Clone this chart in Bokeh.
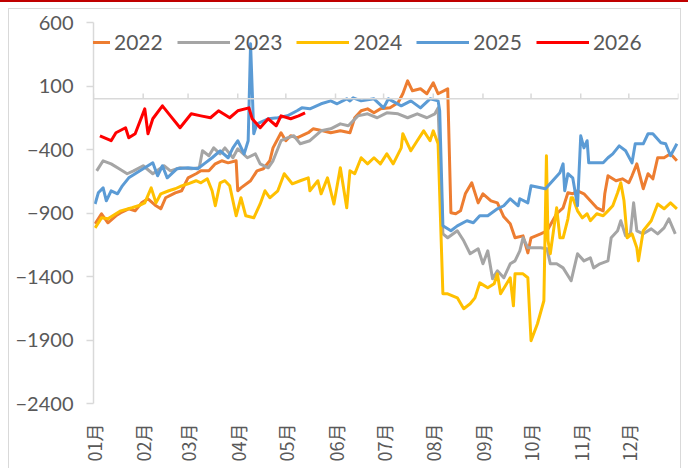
from bokeh.plotting import figure
from bokeh.models import FixedTicker, Legend, LegendItem, Span, ColumnDataSource
from bokeh.embed import file_html
from bokeh.resources import INLINE

# ---- data (day of year, value) ----
month_starts = [0, 31, 59, 90, 120, 151, 181, 212, 243, 273, 304, 334, 365]
month_labels = ["01月", "02月", "03月", "04月", "05月", "06月", "07月", "08月", "09月", "10月", "11月", "12月"]
y_ticks = [600, 100, -400, -900, -1400, -1900, -2400]

d2022 = [1, 5, 9, 14, 17, 22, 26, 30, 34, 39, 42, 45, 51, 55, 59, 64, 67, 72, 76, 80, 84, 89, 90, 92, 98, 102, 106, 110, 112, 117, 120, 123, 127, 134, 137, 143, 148, 154, 160, 163, 167, 171, 175, 179, 185, 190, 193, 196, 199, 204, 208, 212, 215, 221, 223, 226, 229, 232, 236, 240, 243, 248, 252, 256, 260, 263, 268, 271, 273, 279, 283, 289, 293, 296, 299, 302, 306, 310, 314, 318, 319, 321, 326, 330, 334, 336, 339, 343, 346, 349, 352, 356, 360, 364]
v2022 = [-985, -906, -977, -922, -898, -867, -883, -820, -788, -843, -867, -780, -741, -725, -623, -591, -568, -568, -513, -489, -505, -489, -725, -702, -646, -568, -552, -489, -387, -268, -331, -292, -308, -268, -237, -253, -268, -253, -268, -150, -95, -80, -111, -80, -72, -32, 39, 141, 62, 78, 39, 125, 39, 78, -898, -906, -883, -749, -662, -820, -749, -804, -820, -930, -985, -1095, -1080, -1214, -1095, -1064, -1040, -906, -859, -741, -749, -725, -749, -804, -859, -883, -749, -607, -646, -631, -662, -607, -513, -709, -591, -631, -465, -465, -434, -489]

d2023 = [2, 6, 11, 16, 21, 25, 31, 37, 44, 48, 54, 61, 66, 68, 72, 75, 79, 82, 87, 90, 96, 101, 104, 109, 112, 117, 121, 125, 129, 135, 142, 148, 154, 159, 165, 171, 177, 183, 190, 196, 202, 208, 213, 215, 218, 221, 227, 231, 235, 240, 243, 246, 249, 252, 256, 260, 263, 266, 268, 271, 279, 283, 285, 289, 293, 298, 302, 306, 310, 312, 316, 321, 323, 327, 329, 332, 335, 337, 339, 343, 348, 352, 356, 359, 363]
v2023 = [-568, -489, -513, -552, -591, -568, -528, -591, -528, -568, -544, -552, -544, -410, -449, -387, -434, -387, -465, -394, -465, -434, -513, -544, -489, -331, -308, -292, -355, -331, -253, -237, -198, -213, -135, -119, -150, -111, -119, -150, -119, -150, -119, -72, -1064, -1095, -1040, -1119, -1221, -1182, -1300, -1198, -1418, -1355, -1410, -1300, -1277, -1198, -1095, -1174, -1174, -1182, -1300, -1300, -1332, -1434, -1221, -1277, -1253, -1332, -1300, -1277, -1095, -1040, -961, -1080, -1064, -820, -1040, -1064, -1025, -1064, -1017, -946, -1064]

d2024 = [1, 5, 9, 14, 17, 24, 28, 32, 36, 39, 42, 47, 51, 55, 59, 64, 67, 71, 74, 76, 79, 82, 85, 89, 92, 95, 100, 104, 107, 110, 115, 119, 124, 129, 134, 135, 140, 142, 146, 150, 154, 158, 160, 163, 167, 171, 175, 179, 183, 187, 192, 193, 198, 202, 206, 210, 212, 215, 218, 221, 227, 231, 235, 238, 241, 246, 250, 252, 254, 260, 262, 263, 268, 271, 273, 277, 281, 282.6, 283.6, 285, 287, 289, 291, 293, 296, 298, 299, 302, 305, 308, 310, 314, 318, 321, 324, 327, 329, 331, 333, 336, 339, 340, 343, 348, 352, 356, 360, 364]
v2024 = [-1017, -938, -946, -906, -883, -859, -843, -820, -702, -820, -749, -725, -709, -686, -670, -646, -662, -631, -725, -843, -662, -646, -686, -922, -780, -922, -938, -829, -725, -780, -725, -591, -670, -646, -623, -725, -646, -749, -623, -829, -544, -859, -568, -591, -465, -513, -465, -513, -434, -513, -387, -276, -410, -331, -253, -331, -253, -355, -1536, -1536, -1568, -1654, -1615, -1568, -1450, -1489, -1457, -1379, -1536, -1410, -1631, -1379, -1379, -1410, -1906, -1772, -1591, -449, -1119, -1221, -1040, -859, -1095, -1095, -946, -780, -780, -883, -938, -906, -961, -906, -922, -883, -843, -741, -662, -804, -1095, -1064, -1174, -1277, -1040, -961, -829, -867, -820, -867]

d2025 = [1, 3, 6, 8, 11, 15, 18, 22, 29, 37, 40, 43, 46, 52, 59, 65, 69, 74, 79, 84, 87, 90, 94, 96.5, 98, 100, 102, 109, 115, 121, 127, 130, 135, 142, 148, 152, 158, 160, 162, 167, 175, 181, 184, 192, 198, 204, 210, 215, 216, 218, 223, 227, 233, 237, 241, 246, 252, 256, 260, 265, 266, 271, 273, 282, 291, 293, 294, 296, 299, 302, 304, 306, 308, 309, 314, 318, 321, 324, 328, 332, 336, 338, 343, 346, 349, 354, 357, 360, 364]
v2025 = [-829, -741, -702, -804, -725, -749, -686, -623, -568, -505, -607, -528, -623, -552, -544, -552, -513, -465, -410, -465, -387, -331, -434, -331, 432, -276, -198, -158, -150, -135, -95, -72, -80, -40, -17, -40, -1, -17, 7, -17, -1, -72, -1, -56, -17, -72, -1, -17, -95, -1001, -1040, -1001, -961, -977, -922, -922, -867, -843, -788, -843, -788, -820, -686, -709, -583, -513, -725, -591, -623, -843, -292, -387, -331, -505, -505, -505, -465, -434, -371, -410, -505, -355, -355, -276, -276, -347, -355, -449, -355]

d2026 = [4, 11, 14, 20, 22, 26, 32, 34, 37, 43, 48, 54, 61, 67, 73, 78, 85, 90, 97, 99, 104, 109, 114, 117, 123, 128, 132]
v2026 = [-292, -331, -268, -229, -308, -276, -80, -276, -158, -56, -135, -229, -119, -135, -150, -95, -150, -95, -72, -158, -229, -158, -213, -135, -158, -135, -111]

series = [
    ("2022", d2022, v2022, "#ED7D31"),
    ("2023", d2023, v2023, "#A5A5A5"),
    ("2024", d2024, v2024, "#FFC000"),
    ("2025", d2025, v2025, "#5B9BD5"),
    ("2026", d2026, v2026, "#FF0000"),
]

TEXT = "#595959"
GRID = "#d9d9d9"

# page decoration: dark red top rule and light grey panel border (CSS, behind the canvas)
page_bg = ("linear-gradient(#C00000,#C00000) 0px 0px / 688px 2px no-repeat, "
           "linear-gradient(#D9D9D9,#D9D9D9) 8px 8px / 673px 1px no-repeat, "
           "linear-gradient(#D9D9D9,#D9D9D9) 8px 8px / 1px 460px no-repeat, "
           "linear-gradient(#D9D9D9,#D9D9D9) 680px 8px / 1px 460px no-repeat, "
           "#FFFFFF")

p = figure(width=688, height=468, x_range=(0, 365), y_range=(-2400, 600),
           output_backend="svg", toolbar_location=None,
           min_border_left=93, min_border_right=10, min_border_top=22, min_border_bottom=65,
           styles={"background": page_bg})
p.border_fill_color = None
p.background_fill_color = "#FFFFFF"
p.outline_line_color = None
p.xgrid.visible = False
p.ygrid.visible = False

items = []
for name, d, v, c in series:
    src = ColumnDataSource(dict(x=d, y=v))
    r = p.line("x", "y", source=src, line_color=c, line_width=3, line_join="round")
    items.append(LegendItem(label=name, renderers=[r]))

# zero axis line with month tick marks
p.add_layout(Span(location=0, dimension="width", line_color=GRID, line_width=1.5))
tick_len = [40] * len(month_starts)
p.segment(x0=month_starts, y0=[0] * len(month_starts), x1=month_starts, y1=tick_len,
          line_color=GRID, line_width=1.5)

# y axis
ya = p.yaxis[0]
ya.ticker = FixedTicker(ticks=y_ticks)
ya.major_label_overrides = {t: (str(t).replace("-", "\u2212")) for t in y_ticks}
ya.axis_line_color = GRID
ya.axis_line_width = 1.5
ya.major_tick_line_color = GRID
ya.major_tick_line_width = 1.5
ya.major_tick_out = 7
ya.major_tick_in = 0
ya.minor_tick_line_color = None
ya.major_label_standoff = 13
ya.major_label_text_color = TEXT
ya.major_label_text_font = "Lato"
ya.major_label_text_font_size = "20px"

# x axis (labels only, at bottom)
xa = p.xaxis[0]
xa.ticker = FixedTicker(ticks=month_starts[:-1])
xa.major_label_overrides = {t: lab for t, lab in zip(month_starts[:-1], month_labels)}
xa.axis_line_color = None
xa.major_tick_line_color = None
xa.minor_tick_line_color = None
xa.major_label_orientation = 3.14159265 / 2
xa.major_label_standoff = 14
xa.major_label_text_color = TEXT
xa.major_label_text_font = "Noto Sans CJK SC"
xa.major_label_text_font_size = "18px"

legend = Legend(items=items, orientation="horizontal", location=(-36, 349),
                padding=0, margin=0, spacing=14, glyph_width=53, glyph_height=20,
                label_standoff=4, label_height=20,
                label_text_font="Lato", label_text_font_size="21px", label_text_color=TEXT,
                border_line_color=None, background_fill_alpha=0)
p.add_layout(legend, "center")

open("out.html", "w").write(file_html(p, INLINE))
